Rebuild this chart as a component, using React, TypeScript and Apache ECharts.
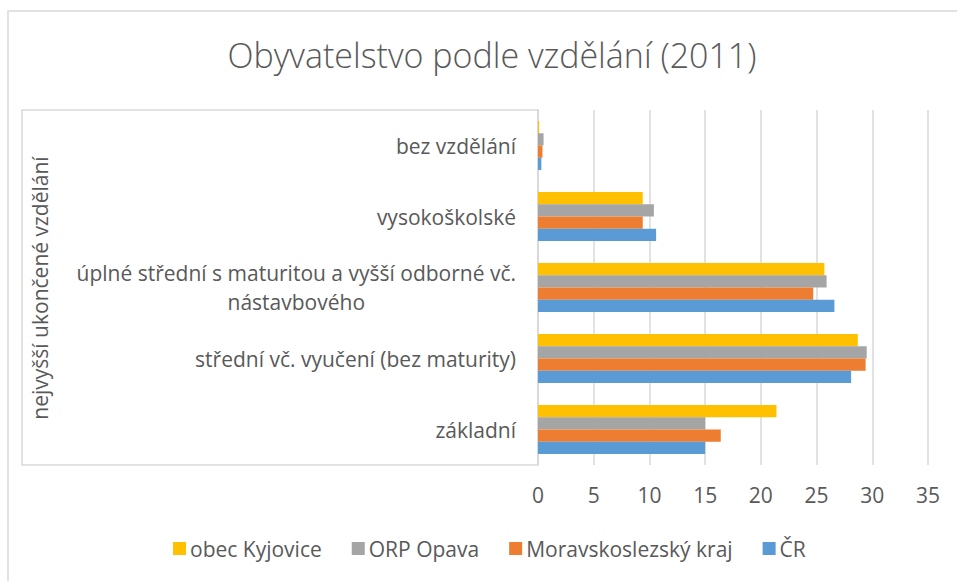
import React, { useEffect, useRef } from "react";
import * as echarts from "echarts";

const title = "Obyvatelstvo podle vzdělání (2011)";
const axisTitle = "nejvyšší ukončené vzdělání";
const categories = [
  "základní",
  "střední vč. vyučení (bez maturity)",
  "úplné střední s maturitou a vyšší odborné vč.\nnástavbového",
  "vysokoškolské",
  "bez vzdělání",
];
const seriesNames = ["obec Kyjovice", "ORP Opava", "Moravskoslezský kraj", "ČR"];
const valuesKyjovice = [21.4, 28.7, 25.7, 9.4, 0.1];
const valuesORP = [15.0, 29.5, 25.9, 10.4, 0.5];
const valuesMSK = [16.4, 29.4, 24.7, 9.4, 0.4];
const valuesCR = [15.0, 28.1, 26.6, 10.6, 0.3];
const seriesColors = ["#FFC000", "#A5A5A5", "#ED7D31", "#5B9BD5"];
const xTicks = { min: 0, max: 35, interval: 5 };

const FONT = "'Open Sans', sans-serif";
const TEXT = "#595959";
const FS = 21;

export default function App() {
  const ref = useRef<HTMLDivElement>(null);
  useEffect(() => {
    if (!ref.current) return;
    const chart = echarts.init(ref.current, undefined, { renderer: "svg" });
    const data = [valuesKyjovice, valuesORP, valuesMSK, valuesCR];
    chart.setOption({
      animation: false,
      backgroundColor: "#ffffff",
      textStyle: { fontFamily: FONT, color: TEXT },
      title: {
        text: title,
        left: 487,
        top: 33,
        textAlign: "center",
        textStyle: { fontFamily: FONT, fontSize: 34, fontWeight: 300, color: TEXT },
      },
      legend: {
        data: seriesNames,
        left: 168,
        top: 533,
        icon: "rect",
        itemWidth: 13,
        itemHeight: 13,
        itemGap: 30,
        textStyle: { fontFamily: FONT, fontSize: FS, color: TEXT, padding: [0, 0, 0, -1] },
      },
      grid: { left: 538, right: 29, top: 110, bottom: 116, containLabel: false },
      xAxis: {
        type: "value",
        min: xTicks.min,
        max: xTicks.max,
        interval: xTicks.interval,
        axisLine: { show: false },
        axisTick: { show: false },
        splitLine: { lineStyle: { color: "#d9d9d9", width: 1.5 } },
        axisLabel: { fontFamily: FONT, fontSize: FS, color: TEXT, margin: 19 },
      },
      yAxis: {
        type: "category",
        data: categories,
        axisLine: { show: true, lineStyle: { color: "#d9d9d9", width: 1.5 } },
        axisTick: { show: false },
        axisLabel: {
          margin: 22,
          fontFamily: FONT,
          fontSize: FS,
          color: TEXT,
          formatter: (v: string) => {
            const parts = v.split("\n");
            if (parts.length === 1) return "{a|" + v + "}";
            return parts.map((p) => "{c|" + p + "}").join("\n");
          },
          rich: {
            a: { fontFamily: FONT, fontSize: FS, color: TEXT },
            c: { fontFamily: FONT, fontSize: FS, color: TEXT, align: "center", lineHeight: 29 },
          },
        },
      },
      graphic: [
        {
          type: "rect",
          shape: { x: 8, y: 11, width: 970, height: 600 },
          style: { fill: "none", stroke: "#d9d9d9", lineWidth: 1.5 },
          silent: true,
        },
        {
          type: "rect",
          shape: { x: 22, y: 110, width: 516, height: 355 },
          style: { fill: "none", stroke: "#d9d9d9", lineWidth: 1.5 },
          silent: true,
        },
        {
          type: "text",
          x: 40,
          y: 288,
          rotation: Math.PI / 2,
          silent: true,
          style: {
            text: axisTitle,
            fontFamily: FONT,
            fontSize: FS,
            fill: TEXT,
            textAlign: "center",
            textVerticalAlign: "middle",
          },
        },
      ],
      series: seriesNames.map((name, i) => ({
        name,
        type: "bar",
        data: data[i],
        itemStyle: { color: seriesColors[i] },
        barGap: "0%",
        barCategoryGap: "31%",
      })),
    });
    return () => chart.dispose();
  }, []);
  return (
    <div
      ref={ref}
      style={{ position: "fixed", left: 0, top: 0, width: 957, height: 581, background: "#fff" }}
    />
  );
}
